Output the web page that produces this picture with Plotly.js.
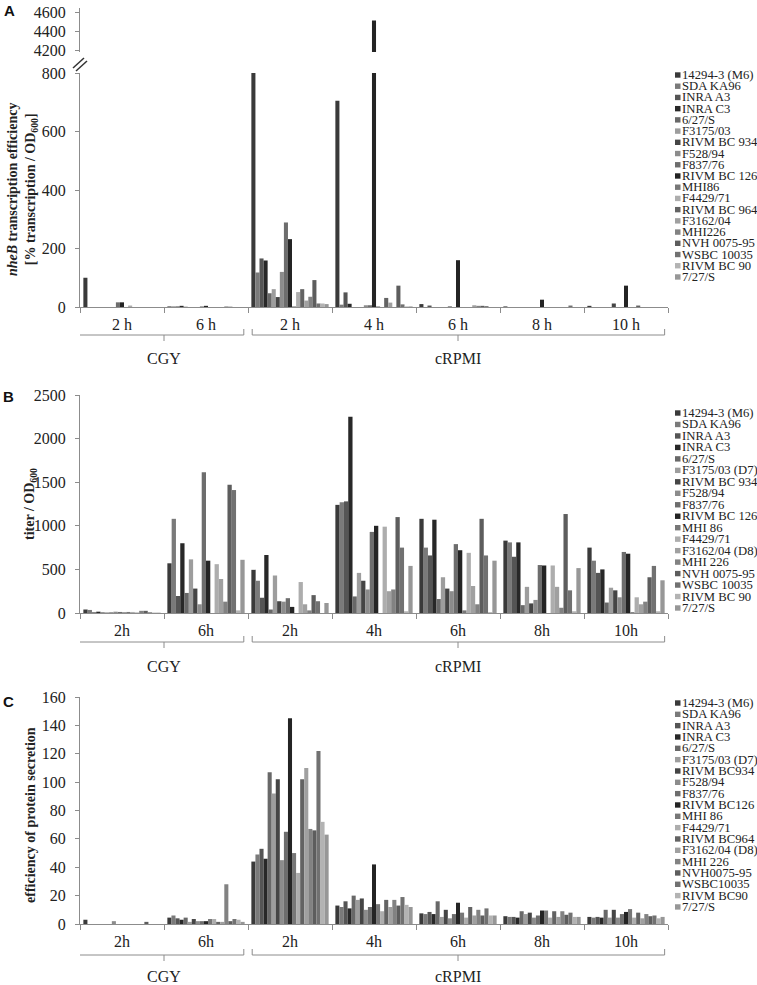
<!DOCTYPE html>
<html><head><meta charset="utf-8">
<script src="https://cdn.plot.ly/plotly-3.0.1.min.js"></script>
<style>html,body{margin:0;padding:0;background:#fff}#chart{width:757px;height:985px}</style>
</head><body><div id="chart"></div>
<script>
// ---------- categories ----------
const groups = ["CGY 2h","CGY 6h","cRPMI 2h","cRPMI 4h","cRPMI 6h","cRPMI 8h","cRPMI 10h"];
const tickLabelsA = ["2 h","6 h","2 h","4 h","6 h","8 h","10 h"];
const tickLabelsBC = ["2h","6h","2h","4h","6h","8h","10h"];
const media = ["CGY","cRPMI"];

// ---------- strains (legend names per panel) ----------
const strainsA = ["14294-3 (M6)","SDA KA96","INRA A3","INRA C3","6/27/S","F3175/03","RIVM BC 934","F528/94","F837/76","RIVM BC 126","MHI86","F4429/71","RIVM BC 964","F3162/04","MHI226","NVH 0075-95","WSBC 10035","RIVM BC 90","7/27/S"];
const strainsB = ["14294-3 (M6)","SDA KA96","INRA A3","INRA C3","6/27/S","F3175/03 (D7)","RIVM BC 934","F528/94","F837/76","RIVM BC 126","MHI 86","F4429/71","F3162/04 (D8)","MHI 226","NVH 0075-95","WSBC 10035","RIVM BC 90","7/27/S"];
const strainsC = ["14294-3 (M6)","SDA KA96","INRA A3","INRA C3","6/27/S","F3175/03 (D7)","RIVM BC934","F528/94","F837/76","RIVM BC126","MHI 86","F4429/71","RIVM BC964","F3162/04 (D8)","MHI 226","NVH0075-95","WSBC10035","RIVM BC90","7/27/S"];

// ---------- A: nheB transcription efficiency (one value per strain, per group) ----------
const nheB_CGY_2h   = [100, 0, 0, 0, 0, 0, 0, 0, 16, 16, 0, 5, 0, 0, 0, 0, 0, 0, 0];
const nheB_CGY_6h   = [2, 2, 2, 4, 1, 0, 0, 0, 2, 4, 0, 0, 0, 0, 2, 1, 0, 0, 0];
const nheB_cRPMI_2h = [1200, 118, 166, 159, 47, 61, 34, 120, 289, 232, 2, 51, 61, 22, 35, 92, 12, 12, 10];
const nheB_cRPMI_4h = [705, 8, 50, 11, 0, 0, 0, 6, 6, 4510, 2, 0, 31, 15, 0, 73, 9, 2, 2];
const nheB_cRPMI_6h = [10, 0, 5, 0, 0, 0, 0, 3, 0, 160, 0, 0, 0, 6, 4, 4, 3, 0, 0];
const nheB_cRPMI_8h = [2, 0, 0, 0, 0, 0, 0, 0, 0, 25, 0, 0, 0, 0, 0, 0, 5, 0, 0];
const nheB_cRPMI_10h= [4, 0, 0, 0, 0, 0, 12, 0, 0, 73, 0, 0, 5, 0, 0, 0, 0, 0, 0];

// ---------- B: titer / OD600 ----------
const titer_CGY_2h   = [40, 35, 8, 15, 8, 8, 6, 15, 12, 5, 12, 12, 6, 25, 25, 8, 5, 4];
const titer_CGY_6h   = [570, 1080, 195, 800, 230, 615, 280, 100, 1615, 600, 0, 560, 390, 130, 1470, 1410, 30, 610];
const titer_cRPMI_2h = [495, 370, 175, 665, 40, 430, 135, 130, 170, 70, 0, 355, 100, 30, 205, 135, 0, 115];
const titer_cRPMI_4h = [1240, 1270, 1280, 2250, 190, 460, 370, 270, 930, 1000, 0, 990, 250, 270, 1100, 750, 20, 540];
const titer_cRPMI_6h = [1080, 750, 660, 1070, 160, 410, 280, 250, 790, 720, 30, 690, 310, 100, 1080, 660, 10, 600];
const titer_cRPMI_8h = [830, 810, 645, 810, 90, 300, 110, 150, 550, 545, 0, 545, 300, 60, 1135, 260, 20, 515];
const titer_cRPMI_10h= [750, 600, 460, 500, 120, 290, 260, 180, 700, 680, 10, 180, 100, 130, 410, 540, 20, 375];

// ---------- C: efficiency of protein secretion ----------
const secr_CGY_2h   = [3, 0, 0, 0, 0, 0, 0, 2, 0, 0, 0, 0, 0, 0, 0, 1.5, 0, 0, 0];
const secr_CGY_6h   = [4.5, 6, 4, 3, 4.5, 1.5, 3.5, 2, 2, 2, 3.5, 3.5, 1.5, 1.5, 28, 2, 3.5, 3, 1.5];
const secr_cRPMI_2h = [44, 49, 53, 46, 107, 92, 102, 45, 65, 145, 50, 36, 102, 110, 67, 66, 122, 72, 63];
const secr_cRPMI_4h = [13, 12, 16, 11, 20, 17, 18, 10, 12, 42, 14, 9, 17, 12, 17, 13, 19, 13.5, 12];
const secr_cRPMI_6h = [7.5, 7, 8.5, 7, 16, 5, 10, 4, 7, 15, 8, 4.5, 12, 6, 10, 6, 11, 6, 6];
const secr_cRPMI_8h = [5.5, 5, 5, 4.5, 9, 7, 8, 4.5, 6, 9.5, 9.5, 4.5, 9, 5, 9, 6.5, 8, 5, 5];
const secr_cRPMI_10h= [5, 4.5, 5, 4.5, 10, 4.5, 10, 4.5, 7, 8.5, 10.5, 4.5, 8, 4, 7, 5.5, 6, 4, 5];

const nheB  = [nheB_CGY_2h, nheB_CGY_6h, nheB_cRPMI_2h, nheB_cRPMI_4h, nheB_cRPMI_6h, nheB_cRPMI_8h, nheB_cRPMI_10h];
const titer = [titer_CGY_2h, titer_CGY_6h, titer_cRPMI_2h, titer_cRPMI_4h, titer_cRPMI_6h, titer_cRPMI_8h, titer_cRPMI_10h];
const secr  = [secr_CGY_2h, secr_CGY_6h, secr_cRPMI_2h, secr_cRPMI_4h, secr_cRPMI_6h, secr_cRPMI_8h, secr_cRPMI_10h];

// ---------- styles ----------
const colorsA = ["#3a3a3a","#7a7a7a","#555555","#282828","#686868","#9d9d9d","#454545","#8c8c8c","#6d6d6d","#242424","#777777","#adadad","#636363","#a0a0a0","#828282","#5d5d5d","#717171","#b3b3b3","#979797"];
const colorsB = colorsA.filter((c,i)=>i!==12);
const colorsC = colorsA.slice();

const W = 757, H = 985, L = 80, R = 668;
const PW = R - L;
const px = v => (v - L) / PW;
const py = v => 1 - v / H;
const serif = "Liberation Serif";

const traces = [];
function addPanel(names, vals, colors, xa, ya) {
  names.forEach((n, k) => {
    traces.push({
      type: "bar", x: groups, y: vals.map(g => g[k]), name: n,
      marker: {color: colors[k], line: {width: 0}},
      xaxis: xa, yaxis: ya, showlegend: false,
      hovertemplate: n + ": %{y}<extra></extra>"
    });
  });
}
addPanel(strainsA, nheB, colorsA, "x", "y");
addPanel(strainsA, nheB, colorsA, "x", "y2");
addPanel(strainsB, titer, colorsB, "x2", "y3");
addPanel(strainsC, secr, colorsC, "x3", "y4");

const lineCol = "#8c8c8c";
const tickFont = {family: serif, size: 16, color: "#222"};
function xAx(anchor, labels) {
  return {type: "category", anchor: anchor, domain: [0, 1], range: [-0.5, 6.5],
    tickmode: "array", tickvals: groups, ticktext: labels, tickson: "boundaries",
    ticks: "outside", ticklen: 5, tickcolor: lineCol, showline: true, linecolor: lineCol,
    showgrid: false, zeroline: false, tickfont: tickFont, ticklabelstandoff: 3, fixedrange: true};
}
function yAx(anchor, dom, range, tickvals) {
  return {anchor: anchor, domain: dom, range: range, tickmode: "array", tickvals: tickvals,
    ticks: "outside", ticklen: 4, tickcolor: lineCol, showline: true, linecolor: lineCol,
    showgrid: false, zeroline: false, tickfont: tickFont, ticklabelstandoff: 6, fixedrange: true};
}

const shapes = [], annotations = [];

// brackets for media
function brackets(xref, top, line, tick, textY) {
  const spans = [[-0.52, 1.45, 0.5], [1.55, 6.46, 4.0]];
  spans.forEach((s, i) => {
    shapes.push({type: "path", xref: xref, yref: "paper",
      path: `M ${s[0]},${py(top)} L ${s[0]},${py(line)} L ${s[1]},${py(line)} L ${s[1]},${py(top)}`,
      line: {color: lineCol, width: 1}});
    shapes.push({type: "line", xref: xref, yref: "paper", x0: s[2], x1: s[2], y0: py(line), y1: py(tick),
      line: {color: lineCol, width: 1}});
    annotations.push({xref: xref, yref: "paper", x: s[2], y: py(textY), text: media[i], showarrow: false,
      xanchor: "center", yanchor: "middle", font: {family: serif, size: 16, color: "#222"}});
  });
}
brackets("x", 329, 335, 341, 358);
brackets("x2", 636, 642, 648, 666);
brackets("x3", 949, 955, 961, 976);

// axis break marks
shapes.push({type: "line", xref: "paper", yref: "paper", x0: px(73), y0: py(68), x1: px(84), y1: py(58), line: {color: "#333", width: 1.5}});
shapes.push({type: "line", xref: "paper", yref: "paper", x0: px(76), y0: py(71), x1: px(87), y1: py(61), line: {color: "#333", width: 1.5}});

// legends
function legend(names, colors, y0, step) {
  names.forEach((n, k) => {
    const yc = y0 + step * k;
    shapes.push({type: "rect", xref: "paper", yref: "paper", x0: px(675), x1: px(680.5), y0: py(yc + 2.7), y1: py(yc - 2.7),
      fillcolor: colors[k], line: {width: 0}});
    annotations.push({xref: "paper", yref: "paper", x: px(681), y: py(yc), text: n, showarrow: false,
      xanchor: "left", yanchor: "middle", borderpad: 0, font: {family: serif, size: 12.7, color: "#222"}});
  });
}
legend(strainsA, colorsA, 75, 11.22);
legend(strainsB, colorsB, 413, 11.47);
legend(strainsC, colorsC, 703, 11.33);

// panel letters
[["A", 9, 11], ["B", 8, 396], ["C", 8, 701]].forEach(p => {
  annotations.push({xref: "paper", yref: "paper", x: px(p[1]), y: py(p[2]), text: "<b>" + p[0] + "</b>", showarrow: false,
    xanchor: "center", yanchor: "middle", font: {family: "Liberation Sans", size: 15, color: "#111"}});
});

// y axis titles
const titleFont = {family: serif, size: 14, color: "#222"};
annotations.push({xref: "paper", yref: "paper", x: px(22), y: py(190), textangle: -90, showarrow: false,
  xanchor: "center", yanchor: "middle", font: titleFont,
  text: "<b><i>nheB</i> transcription efficiency<br>[% transcription / OD<sub>600</sub>]</b>"});
annotations.push({xref: "paper", yref: "paper", x: px(30), y: py(504), textangle: -90, showarrow: false,
  xanchor: "center", yanchor: "middle", font: titleFont, text: "<b>titer / OD<sub>600</sub></b>"});
annotations.push({xref: "paper", yref: "paper", x: px(30), y: py(815), textangle: -90, showarrow: false,
  xanchor: "center", yanchor: "middle", font: titleFont, text: "<b>efficiency of protein secretion</b>"});

const layout = {
  width: W, height: H, margin: {l: L, r: W - R, t: 0, b: 0},
  paper_bgcolor: "#fff", plot_bgcolor: "rgba(0,0,0,0)",
  barmode: "group", bargap: 0.08, bargroupgap: 0, showlegend: false,
  font: {family: serif, color: "#222"},
  xaxis: xAx("y", tickLabelsA),
  xaxis2: xAx("y3", tickLabelsBC),
  xaxis3: xAx("y4", tickLabelsBC),
  yaxis: yAx("x", [py(307), py(73)], [0, 800], [0, 200, 400, 600, 800]),
  yaxis2: yAx("x", [py(52), py(8)], [4178.9, 4642.1], [4200, 4400, 4600]),
  yaxis3: yAx("x2", [py(613), py(395)], [0, 2500], [0, 500, 1000, 1500, 2000, 2500]),
  yaxis4: yAx("x3", [py(924), py(697)], [0, 160], [0, 20, 40, 60, 80, 100, 120, 140, 160]),
  shapes: shapes, annotations: annotations
};

Plotly.newPlot("chart", traces, layout, {displayModeBar: false, staticPlot: true});
</script>
</body></html>
